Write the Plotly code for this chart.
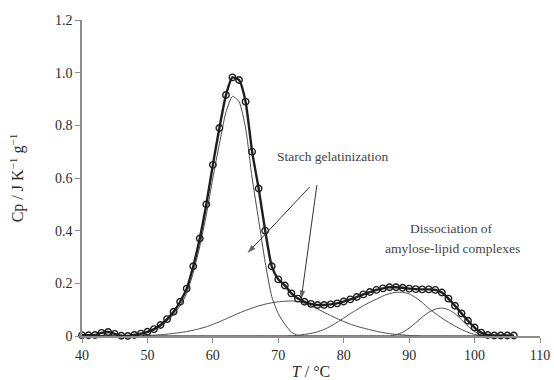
import plotly.graph_objects as go

# Temperature grid (°C) shared by the measured curve and the fitted components
temperature = list(range(40, 107))

# Measured excess heat capacity, Cp (J K^-1 g^-1)
cp_total = [
    0.003, 0.003, 0.004, 0.012, 0.015, 0.008, 0.001, 0.000, 0.004, 0.009,    # 40-49
    0.016, 0.026, 0.042, 0.064, 0.092, 0.130, 0.180, 0.265, 0.370, 0.500,    # 50-59
    0.650, 0.790, 0.915, 0.982, 0.972, 0.890, 0.700, 0.560, 0.400, 0.265,    # 60-69
    0.215, 0.192, 0.162, 0.142, 0.130, 0.122, 0.118, 0.118, 0.120, 0.124,    # 70-79
    0.131, 0.139, 0.148, 0.158, 0.167, 0.175, 0.181, 0.185, 0.185, 0.183,    # 80-89
    0.180, 0.178, 0.177, 0.177, 0.175, 0.165, 0.142, 0.115, 0.086, 0.058,    # 90-99
    0.032, 0.013, 0.004, 0.002, 0.002, 0.002, 0.002,                         # 100-106
]

# Fitted components
gel_main = [
    0, 0, 0, 0, 0, 0, 0, 0, 0.003, 0.007,
    0.013, 0.022, 0.036, 0.056, 0.082, 0.115, 0.162, 0.240, 0.340, 0.460,
    0.600, 0.730, 0.850, 0.910, 0.890, 0.790, 0.600, 0.440, 0.280, 0.150,
    0.085, 0.045, 0.015, 0.002, 0, 0, 0, 0, 0, 0,
    0, 0, 0, 0, 0, 0, 0, 0, 0, 0,
    0, 0, 0, 0, 0, 0, 0, 0, 0, 0,
    0, 0, 0, 0, 0, 0, 0,
]
gel_broad = [
    0, 0, 0, 0, 0, 0, 0, 0, 0, 0,
    0.002, 0.003, 0.005, 0.007, 0.010, 0.013, 0.017, 0.022, 0.028, 0.035,
    0.044, 0.054, 0.065, 0.076, 0.087, 0.097, 0.106, 0.114, 0.121, 0.126,
    0.130, 0.132, 0.133, 0.131, 0.125, 0.115, 0.103, 0.090, 0.078, 0.066,
    0.055, 0.045, 0.037, 0.030, 0.024, 0.018, 0.013, 0.009, 0.006, 0.004,
    0.002, 0.001, 0, 0, 0, 0, 0, 0, 0, 0,
    0, 0, 0, 0, 0, 0, 0,
]
complex_1 = [
    0, 0, 0, 0, 0, 0, 0, 0, 0, 0,
    0, 0, 0, 0, 0, 0, 0, 0, 0, 0,
    0, 0, 0, 0, 0, 0, 0, 0, 0, 0,
    0, 0, 0.001, 0.003, 0.006, 0.010, 0.016, 0.025, 0.037, 0.052,
    0.068, 0.085, 0.100, 0.115, 0.128, 0.140, 0.152, 0.161, 0.166, 0.166,
    0.160, 0.146, 0.127, 0.105, 0.086, 0.068, 0.052, 0.038, 0.025, 0.014,
    0.006, 0.002, 0, 0, 0, 0, 0,
]
complex_2 = [
    0, 0, 0, 0, 0, 0, 0, 0, 0, 0,
    0, 0, 0, 0, 0, 0, 0, 0, 0, 0,
    0, 0, 0, 0, 0, 0, 0, 0, 0, 0,
    0, 0, 0, 0, 0, 0, 0, 0, 0, 0,
    0, 0, 0, 0, 0, 0, 0, 0, 0.005, 0.014,
    0.030, 0.050, 0.072, 0.090, 0.102, 0.106, 0.100, 0.085, 0.062, 0.037,
    0.017, 0.005, 0.001, 0, 0, 0, 0,
]

x_ticks = [40, 50, 60, 70, 80, 90, 100, 110]
y_ticks = [0, 0.2, 0.4, 0.6, 0.8, 1.0, 1.2]
y_tick_text = ["0", "0.2", "0.4", "0.6", "0.8", "1.0", "1.2"]

SERIF = "Liberation Serif, Times New Roman, serif"
INK = "#2a2a2a"

fig = go.Figure()

for comp in (gel_main, gel_broad, complex_1, complex_2):
    fig.add_trace(go.Scatter(
        x=temperature, y=comp, mode="lines",
        line=dict(color="#4a4a4a", width=1, shape="spline", smoothing=0.6),
        showlegend=False, hoverinfo="skip",
    ))

fig.add_trace(go.Scatter(
    x=temperature, y=cp_total, mode="lines+markers",
    line=dict(color="#1e1e1e", width=2.4, shape="spline", smoothing=0.6),
    marker=dict(symbol="circle-open", size=6.5, color="#1e1e1e", line=dict(width=1.4)),
    cliponaxis=False, showlegend=False,
))

# Pointer arrows from the "Starch gelatinization" label to its two components
# (tail point first, arrow head at the second point)
arrow_tails = [(74.8, 0.566), (75.9, 0.573)]
arrow_heads = [(65.3, 0.315), (73.5, 0.14)]
for (tx, ty), (hx, hy) in zip(arrow_tails, arrow_heads):
    fig.add_trace(go.Scatter(
        x=[tx, hx], y=[ty, hy], mode="lines+markers",
        line=dict(color="#333", width=1),
        marker=dict(symbol=["circle", "arrow"], size=[0, 9], color="#222",
                    angleref="previous", line=dict(width=0)),
        showlegend=False, hoverinfo="skip",
    ))

labels = [
    dict(x=78.4, y=0.68, text="Starch gelatinization"),
    dict(x=96.5, y=0.41, text="Dissociation of"),
    dict(x=96.55, y=0.334, text="amylose-lipid complexes"),
]
for lab in labels:
    fig.add_annotation(
        x=lab["x"], y=lab["y"], xref="x", yref="y", text=lab["text"],
        showarrow=False, font=dict(family=SERIF, size=13.5, color="#444"),
    )

axis_common = dict(
    showgrid=False, zeroline=False, showline=True, automargin=False,
    linecolor="#8c8c8c", linewidth=1.5,
    ticks="outside", ticklen=5, tickwidth=1.2, tickcolor="#8c8c8c",
    tickfont=dict(family=SERIF, size=14, color=INK),
)

fig.update_layout(
    width=554, height=380,
    margin=dict(l=82, r=14, t=20, b=44),
    paper_bgcolor="white", plot_bgcolor="white",
    xaxis=dict(
        range=[40, 110], tickvals=x_ticks,
        title=dict(text="<i>T</i> / °C", font=dict(family=SERIF, size=16, color=INK), standoff=18),
        **axis_common,
    ),
    yaxis=dict(
        range=[0, 1.2], tickvals=y_ticks, ticktext=y_tick_text,
        title=dict(text="Cp / J K<sup>−1</sup> g<sup>−1</sup>", font=dict(family=SERIF, size=16, color=INK), standoff=27),
        **axis_common,
    ),
)

fig.write_html("out.html")
